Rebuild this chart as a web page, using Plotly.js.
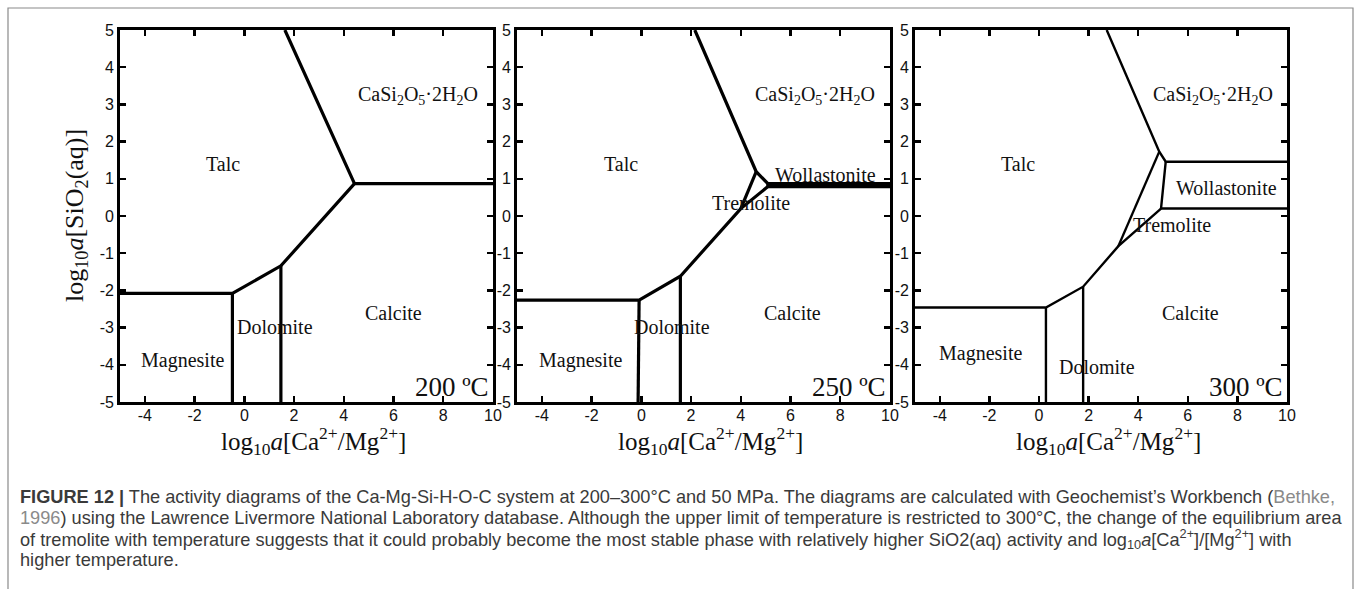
<!DOCTYPE html>
<html>
<head>
<meta charset="utf-8">
<script src="https://cdn.plot.ly/plotly-3.0.1.min.js"></script>
<style>
html,body{margin:0;padding:0;background:#fff;}
#chart{width:1357px;height:589px;}
</style>
</head>
<body>
<div id="chart"></div>
<script>
// ---------- DATA (phase boundaries, polylines separated by null) ----------
// 200 °C
const b200_x = [1.63, 4.43, 10, null, 4.43, 1.47, -0.48, -5, null, -0.48, -0.48, null, 1.47, 1.47];
const b200_y = [5, 0.87, 0.87, null, 0.87, -1.34, -2.08, -2.08, null, -2.08, -5, null, -1.34, -5];
// 250 °C
const b250_x = [2.15, 4.62, 5.09, 10, null, 4.62, 4.0, null, 5.09, 5.09, 10, null, 5.09, 4.0, 1.57, -0.09, -5, null, -0.09, -0.13, null, 1.57, 1.57];
const b250_y = [5, 1.19, 0.87, 0.87, null, 1.19, 0.2, null, 0.87, 0.79, 0.79, null, 0.79, 0.2, -1.62, -2.26, -2.26, null, -2.26, -5, null, -1.62, -5];
// 300 °C
const b300_x = [2.73, 4.85, 5.11, 10, null, 5.11, 4.92, 10, null, 4.85, 3.2, null, 4.92, 3.2, 1.78, 0.28, -5, null, 0.28, 0.28, null, 1.78, 1.78];
const b300_y = [5, 1.73, 1.46, 1.46, null, 1.46, 0.2, 0.2, null, 1.73, -0.81, null, 0.2, -0.81, -1.9, -2.46, -2.46, null, -2.46, -5, null, -1.9, -5];

// Field labels
const lab200_text = ["Talc", "CaSi<sub>2</sub>O<sub>5</sub>·2H<sub>2</sub>O", "Calcite", "Dolomite", "Magnesite"];
const lab200_x = [-0.86, 6.97, 6.0, 1.23, -2.5];
const lab200_y = [1.41, 3.25, -2.62, -2.98, -3.88];

const lab250_text = ["Talc", "CaSi<sub>2</sub>O<sub>5</sub>·2H<sub>2</sub>O", "Wollastonite", "Tremolite", "Calcite", "Dolomite", "Magnesite"];
const lab250_x = [-0.83, 6.99, 7.4, 4.39, 6.07, 1.25, -2.46];
const lab250_y = [1.41, 3.25, 1.1, 0.35, -2.62, -2.98, -3.88];

const lab300_text = ["Talc", "CaSi<sub>2</sub>O<sub>5</sub>·2H<sub>2</sub>O", "Wollastonite", "Tremolite", "Calcite", "Magnesite", "Dolomite"];
const lab300_x = [-0.84, 7.03, 7.57, 5.35, 6.09, -2.36, 2.35];
const lab300_y = [1.41, 3.25, 0.76, -0.23, -2.62, -3.7, -4.06];

const temps = ["200 ºC", "250 ºC", "300 ºC"];

// Tick labels (hyphen minus as in the figure)
const xTickVals = [-4, -2, 0, 2, 4, 6, 8, 10];
const xTickText = ["-4", "-2", "0", "2", "4", "6", "8", "10"];
const yTickVals = [-5, -4, -3, -2, -1, 0, 1, 2, 3, 4, 5];
const yTickText = ["-5", "-4", "-3", "-2", "-1", "0", "1", "2", "3", "4", "5"];

const xTitle = "log<sub>10</sub><i>a</i>[Ca<sup>2+</sup>/Mg<sup>2+</sup>]";
const yTitle = "log<sub>10</sub><i>a</i>[SiO<sub>2</sub>(aq)]";

const captionLines = [
  "<b>FIGURE 12 |</b> The activity diagrams of the Ca-Mg-Si-H-O-C system at 200–300°C and 50 MPa. The diagrams are calculated with Geochemist’s Workbench (<span style='color:#8a8a8a'>Bethke,</span>",
  "<span style='color:#8a8a8a'>1996</span>) using the Lawrence Livermore National Laboratory database. Although the upper limit of temperature is restricted to 300°C, the change of the equilibrium area",
  "of tremolite with temperature suggests that it could probably become the most stable phase with relatively higher SiO2(aq) activity and log<sub>10</sub><i>a</i>[Ca<sup>2+</sup>]/[Mg<sup>2+</sup>] with",
  "higher temperature."
];

// ---------- LAYOUT HELPERS ----------
const W = 1357, H = 589;
const px = v => v / W;
const py = v => 1 - v / H;

const panels = [
  {bx: b200_x, by: b200_y, lw: 3.2, lt: lab200_text, lx: lab200_x, ly: lab200_y, dom: [px(120), px(493)]},
  {bx: b250_x, by: b250_y, lw: 3.2, lt: lab250_text, lx: lab250_x, ly: lab250_y, dom: [px(517), px(890)]},
  {bx: b300_x, by: b300_y, lw: 2.4, lt: lab300_text, lx: lab300_x, ly: lab300_y, dom: [px(915), px(1287)]}
];

const serif = "Liberation Serif, Times New Roman, serif";
const sans = "Liberation Sans, Arial, sans-serif";

const data = [];
const annotations = [];
const layout = {
  width: W, height: H,
  margin: {l: 0, r: 0, t: 0, b: 0},
  paper_bgcolor: "#fff", plot_bgcolor: "#fff",
  showlegend: false,
  shapes: [{type: "rect", xref: "paper", yref: "paper", x0: px(8), x1: px(1353), y0: py(620), y1: py(8),
            line: {color: "#8a8a8a", width: 1.2}, fillcolor: "rgba(0,0,0,0)"}]
};

panels.forEach((p, i) => {
  const n = i === 0 ? "" : String(i + 1);
  const xa = "x" + n, ya = "y" + n;
  data.push({type: "scatter", mode: "lines", x: p.bx, y: p.by, xaxis: xa, yaxis: ya,
             line: {color: "#000", width: p.lw}, connectgaps: false, hoverinfo: "skip"});
  const axCommon = {showline: true, linecolor: "#000", linewidth: 2.8, mirror: "ticks",
                    ticks: "inside", ticklen: 6, tickwidth: 2.4, tickcolor: "#000",
                    showgrid: false, zeroline: false, fixedrange: true,
                    tickfont: {family: sans, size: 16, color: "#111"}};
  layout["xaxis" + n] = Object.assign({}, axCommon, {
    domain: p.dom, anchor: ya, range: [-5, 10], tickmode: "array",
    tickvals: xTickVals, ticktext: xTickText, ticklabelstandoff: -3
  });
  layout["yaxis" + n] = Object.assign({}, axCommon, {
    domain: [py(402), py(30)], anchor: xa, range: [-5, 5], tickmode: "array",
    tickvals: yTickVals, ticktext: yTickText, ticklabelstandoff: 0
  });
  // x-axis title, centred under each panel
  annotations.push({xref: xa + " domain", yref: "paper", x: 0.52, y: py(441), text: xTitle, showarrow: false,
                    font: {family: serif, size: 25, color: "#111"}, xanchor: "center", yanchor: "middle"});
  p.lt.forEach((t, k) => {
    annotations.push({xref: xa, yref: ya, x: p.lx[k], y: p.ly[k], text: t, showarrow: false,
                      font: {family: serif, size: 20, color: "#111"}, xanchor: "center", yanchor: "middle"});
  });
  annotations.push({xref: xa, yref: ya, x: 9.93, y: -4.6, text: temps[i], showarrow: false,
                    font: {family: serif, size: 27, color: "#111"}, xanchor: "right", yanchor: "middle"});
});

// y-axis title (first panel only)
annotations.push({xref: "paper", yref: "paper", x: px(76), y: py(216), text: yTitle, showarrow: false,
                  textangle: -90, font: {family: serif, size: 26, color: "#111"}, xanchor: "center", yanchor: "middle"});

const capY = [497, 518, 539, 560];
captionLines.forEach((t, k) => {
  annotations.push({xref: "paper", yref: "paper", x: px(18), y: py(capY[k]), text: t, showarrow: false,
                    xanchor: "left", yanchor: "middle", align: "left",
                    font: {family: sans, size: 18.2, color: "#3a3a3a"}});
});
layout.annotations = annotations;

Plotly.newPlot("chart", data, layout, {staticPlot: true, displayModeBar: false});
</script>
</body>
</html>
